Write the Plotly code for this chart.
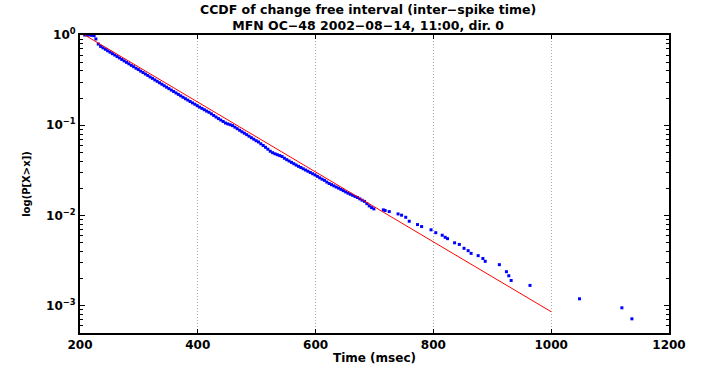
import plotly.graph_objects as go

# Empirical CCDF samples: time (msec) and log10 P[X>x]
time_ms = [
    208, 212, 216, 220, 224, 227, 231, 235, 239, 243, 247, 251, 255, 259, 263, 267,
    271, 275, 279, 283, 287, 291, 295, 299, 303, 307, 311, 315, 319, 323, 327, 331,
    335, 339, 343, 347, 351, 355, 359, 363, 367, 371, 375, 379, 383, 387, 391, 395,
    399, 403, 407, 411, 415, 419, 423, 427, 431, 435, 439, 443, 447, 451, 455, 459,
    463, 467, 471, 475, 479, 483, 487, 491, 495, 499, 503, 507, 511, 515, 519, 523,
    527, 531, 535, 539, 543, 547, 551, 555, 559, 563, 567, 571, 575, 579, 583, 587,
    591, 595, 599, 603, 607, 611, 615, 619, 623, 627, 631, 635, 639, 643, 647, 651,
    655, 659, 663, 667, 671, 675, 679, 683, 687, 691, 695, 699,
    715, 718, 725, 740, 746, 753, 759, 773, 780, 796, 804, 815, 820, 824, 836, 844,
    852, 859, 864, 876, 884, 888, 912, 924, 928, 932, 964, 1048, 1120, 1137, 1144,
]
ccdf_log10 = [
    0.000, 0.000, 0.000, -0.004, -0.008, -0.044, -0.100, -0.126, -0.142, -0.158, -0.175, -0.190, -0.207, -0.222, -0.239, -0.254,
    -0.271, -0.287, -0.303, -0.319, -0.336, -0.351, -0.368, -0.383, -0.400, -0.416, -0.432, -0.448, -0.465, -0.480, -0.497, -0.513,
    -0.529, -0.545, -0.562, -0.578, -0.594, -0.610, -0.626, -0.642, -0.658, -0.674, -0.690, -0.706, -0.721, -0.737, -0.752, -0.767,
    -0.783, -0.799, -0.813, -0.828, -0.843, -0.856, -0.873, -0.891, -0.909, -0.926, -0.942, -0.958, -0.975, -0.985, -0.994, -1.004,
    -1.021, -1.038, -1.055, -1.072, -1.088, -1.104, -1.121, -1.138, -1.154, -1.171, -1.185, -1.205, -1.224, -1.244, -1.265, -1.288,
    -1.304, -1.316, -1.326, -1.336, -1.346, -1.365, -1.381, -1.396, -1.411, -1.426, -1.441, -1.455, -1.468, -1.482, -1.496, -1.509,
    -1.523, -1.537, -1.550, -1.566, -1.582, -1.597, -1.610, -1.629, -1.645, -1.658, -1.671, -1.684, -1.696, -1.710, -1.724, -1.738,
    -1.752, -1.764, -1.776, -1.788, -1.800, -1.815, -1.830, -1.843, -1.868, -1.893, -1.912, -1.926,
    -1.937, -1.944, -1.956, -1.982, -1.996, -2.019, -2.063, -2.100, -2.122, -2.158, -2.190, -2.218, -2.241, -2.256, -2.302, -2.320,
    -2.363, -2.389, -2.419, -2.444, -2.476, -2.507, -2.544, -2.622, -2.667, -2.719, -2.774, -2.922, -3.022, -3.144, -3.320,
]

# Exponential fit line (endpoints)
fit_time_ms = [208, 1000]
fit_prob = [1.0, 8.6e-4]

x_ticks = [200, 400, 600, 800, 1000, 1200]
y_tick_vals = [1, 0.1, 0.01, 0.001]
y_tick_text = ["10<sup>0</sup>", "10<sup>\u22121</sup>", "10<sup>\u22122</sup>", "10<sup>\u22123</sup>"]

title_lines = [
    "CCDF of change free interval (inter\u2212spike time)",
    "MFN OC\u221248 2002\u221208\u221214, 11:00, dir. 0",
]

ccdf_prob = [10 ** v for v in ccdf_log10]

font_family = "DejaVu Sans, Verdana, sans-serif"

fig = go.Figure()
fig.add_trace(go.Scatter(
    x=time_ms, y=ccdf_prob, mode="markers",
    marker=dict(symbol="square", size=3, color="#0000ff", line=dict(width=0)),
    cliponaxis=False, showlegend=False,
))
fig.add_trace(go.Scatter(
    x=fit_time_ms, y=fit_prob, mode="lines",
    line=dict(color="#ff0000", width=1),
    showlegend=False,
))

plot_w = 715 - 80 - 46
plot_h = 368 - 35 - 35
fig.update_layout(
    width=715, height=368,
    margin=dict(l=80, r=46, t=35, b=35, autoexpand=False),
    paper_bgcolor="white", plot_bgcolor="white",
    font=dict(family=font_family, color="black"),
)
fig.add_annotation(
    text="<b>" + "<br>".join(title_lines) + "</b>",
    xref="paper", yref="paper", x=(368 - 80) / plot_w, y=1 + (35 - 17.5) / plot_h,
    xanchor="center", yanchor="middle", showarrow=False,
    font=dict(size=12.5, family=font_family, color="black"),
)
fig.update_xaxes(
    range=[200, 1200], tickvals=x_ticks,
    ticktext=[f"<b>{v}</b>" for v in x_ticks],
    tickfont=dict(size=12), automargin=False,
    showline=True, linecolor="black", linewidth=2, mirror="ticks",
    ticks="inside", ticklen=4, tickcolor="black",
    showgrid=True, gridcolor="#aaaaaa", griddash="1px,2px", gridwidth=1,
    zeroline=False,
    title=dict(text="<b>Time (msec)</b>", font=dict(size=12), standoff=2),
)
fig.update_yaxes(
    type="log", range=[-3.301, 0],
    tickvals=y_tick_vals, ticktext=[f"<b>{t}</b>" for t in y_tick_text],
    tickfont=dict(size=12), automargin=False,
    showline=True, linecolor="black", linewidth=2, mirror="ticks",
    ticks="inside", ticklen=5, tickcolor="black",
    minor=dict(ticks="inside", ticklen=3, tickcolor="black", dtick="D1", showgrid=False),
    showgrid=False, zeroline=False,
    title=dict(text="<b>log(P[X>x])</b>", font=dict(size=10), standoff=14),
)

fig.write_html("out.html")
